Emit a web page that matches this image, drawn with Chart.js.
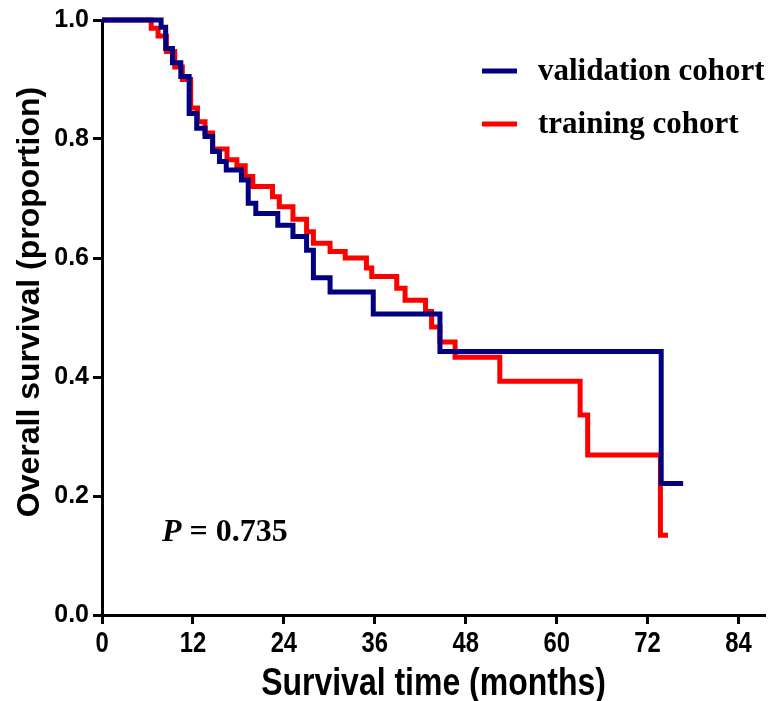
<!DOCTYPE html>
<html>
<head>
<meta charset="utf-8">
<script src="https://cdn.jsdelivr.net/npm/chart.js@4.4.0/dist/chart.umd.min.js"></script>
<style>
  html, body { margin: 0; padding: 0; background: #fff; }
</style>
</head>
<body>
<canvas id="kmChart" width="772" height="701"></canvas>
<script>
// tick labels
const xTicks = [0, 12, 24, 36, 48, 60, 72, 84];
const yTicks = [0.0, 0.2, 0.4, 0.6, 0.8, 1.0];

// validation cohort (step times in months, survival after each step)
const validationTimes = [0, 7.8, 8.4, 9.3, 10.4, 11.5, 12.5, 13.6, 14.6, 15.5, 16.4, 18.4, 19.3, 20.3, 23.2, 25.2, 27.0, 27.9, 30.1, 35.8, 44.6, 73.8, 76.7];
const validationSurvival = [1.0, 0.988, 0.952, 0.928, 0.905, 0.843, 0.818, 0.804, 0.779, 0.762, 0.748, 0.731, 0.692, 0.675, 0.655, 0.636, 0.613, 0.567, 0.543, 0.506, 0.443, 0.221, 0.221];

// training cohort
const trainingTimes = [0, 6.5, 7.4, 8.5, 9.6, 10.6, 11.7, 12.6, 13.6, 14.6, 16.5, 17.8, 18.9, 19.9, 22.5, 23.4, 25.2, 27.0, 27.9, 30.1, 32.1, 34.9, 35.6, 38.9, 40.0, 42.7, 43.5, 44.6, 46.6, 52.5, 63.1, 64.1, 73.7, 74.7];
const trainingSurvival = [1.0, 0.986, 0.973, 0.947, 0.921, 0.900, 0.852, 0.829, 0.810, 0.783, 0.765, 0.755, 0.737, 0.720, 0.703, 0.686, 0.665, 0.644, 0.625, 0.611, 0.600, 0.583, 0.569, 0.549, 0.529, 0.510, 0.484, 0.459, 0.433, 0.393, 0.336, 0.269, 0.134, 0.134];

function toPoints(times, values) {
  return times.map(function(t, i) { return { x: t, y: values[i] }; });
}

// condensed text (no narrow font installed, so squeeze Liberation Sans)
function narrowText(ctx, text, x, y, size) {
  ctx.save();
  ctx.font = 'bold ' + size + 'px "Liberation Sans", Arial, sans-serif';
  ctx.textAlign = 'center';
  ctx.textBaseline = 'alphabetic';
  ctx.translate(x, y);
  ctx.scale(0.82, 1);
  ctx.fillText(text, 0, 0);
  ctx.restore();
}

// legend, p-value, axis titles and x labels, drawn by hand
const annotations = {
  id: 'annotations',
  afterDraw: function(chart) {
    const ctx = chart.ctx;
    const xScale = chart.scales.x;
    const area = chart.chartArea;
    ctx.save();
    ctx.fillStyle = '#000';

    // x tick labels
    xTicks.forEach(function(v) {
      narrowText(ctx, String(v), xScale.getPixelForValue(v), 652, 29);
    });
    // x title
    narrowText(ctx, 'Survival time (months)', (area.left + area.right) / 2, 695, 39);

    // legend
    const rows = [71, 124];
    chart.data.datasets.forEach(function(ds, i) {
      ctx.strokeStyle = ds.borderColor;
      ctx.lineWidth = 5;
      ctx.beginPath();
      ctx.moveTo(482, rows[i]);
      ctx.lineTo(517, rows[i]);
      ctx.stroke();
      ctx.font = 'bold 31px "Liberation Serif", "Times New Roman", serif';
      ctx.textBaseline = 'middle';
      ctx.textAlign = 'left';
      ctx.fillText(ds.label, 538, rows[i] + 1);
    });

    // p value
    ctx.textBaseline = 'alphabetic';
    ctx.font = 'italic bold 32px "Liberation Serif", serif';
    ctx.fillText('P', 162, 541);
    const pw = ctx.measureText('P').width;
    ctx.font = 'bold 32px "Liberation Serif", serif';
    ctx.fillText(' = 0.735', 162 + pw, 541);

    // y axis title
    ctx.translate(30, 302);
    ctx.rotate(-Math.PI / 2);
    ctx.textAlign = 'center';
    ctx.textBaseline = 'middle';
    ctx.font = 'bold 32px "Liberation Sans", Arial, sans-serif';
    ctx.fillText('Overall survival (proportion)', 0, 0);
    ctx.restore();
  }
};

const ctxKm = document.getElementById('kmChart').getContext('2d');

new Chart(ctxKm, {
  type: 'line',
  data: {
    datasets: [{
      label: 'validation cohort',
      data: toPoints(validationTimes, validationSurvival),
      borderColor: '#000080',
      borderWidth: 5,
      stepped: true,
      pointRadius: 0,
      fill: false,
      clip: false,
      borderJoinStyle: 'miter'
    }, {
      label: 'training cohort',
      data: toPoints(trainingTimes, trainingSurvival),
      borderColor: '#ff0000',
      borderWidth: 5,
      stepped: true,
      pointRadius: 0,
      fill: false,
      clip: false,
      borderJoinStyle: 'miter'
    }]
  },
  options: {
    responsive: false,
    animation: false,
    layout: {
      padding: { top: 20, right: 7, left: 0, bottom: 0 }
    },
    scales: {
      x: {
        type: 'linear',
        min: 0,
        max: 87.5,
        afterFit: function(scale) { scale.height = 86; },
        afterBuildTicks: function(scale) {
          scale.ticks = xTicks.map(function(v) { return { value: v }; });
        },
        border: { display: true, color: '#000', width: 3 },
        grid: {
          drawOnChartArea: false,
          drawTicks: true,
          tickLength: 9,
          tickWidth: 3,
          tickColor: '#000'
        },
        ticks: { display: false }
      },
      y: {
        min: 0,
        max: 1,
        afterFit: function(scale) { scale.width = 102; },
        afterBuildTicks: function(scale) {
          scale.ticks = yTicks.map(function(v) { return { value: v }; });
        },
        border: { display: true, color: '#000', width: 3 },
        grid: {
          drawOnChartArea: false,
          drawTicks: true,
          tickLength: 9,
          tickWidth: 3,
          tickColor: '#000'
        },
        ticks: {
          color: '#000',
          padding: 4,
          callback: function(v) { return Number(v).toFixed(1); },
          font: { family: '"Liberation Sans", Arial, sans-serif', weight: 'bold', size: 25 }
        }
      }
    },
    plugins: {
      legend: { display: false },
      tooltip: { enabled: false }
    }
  },
  plugins: [annotations]
});
</script>
</body>
</html>
